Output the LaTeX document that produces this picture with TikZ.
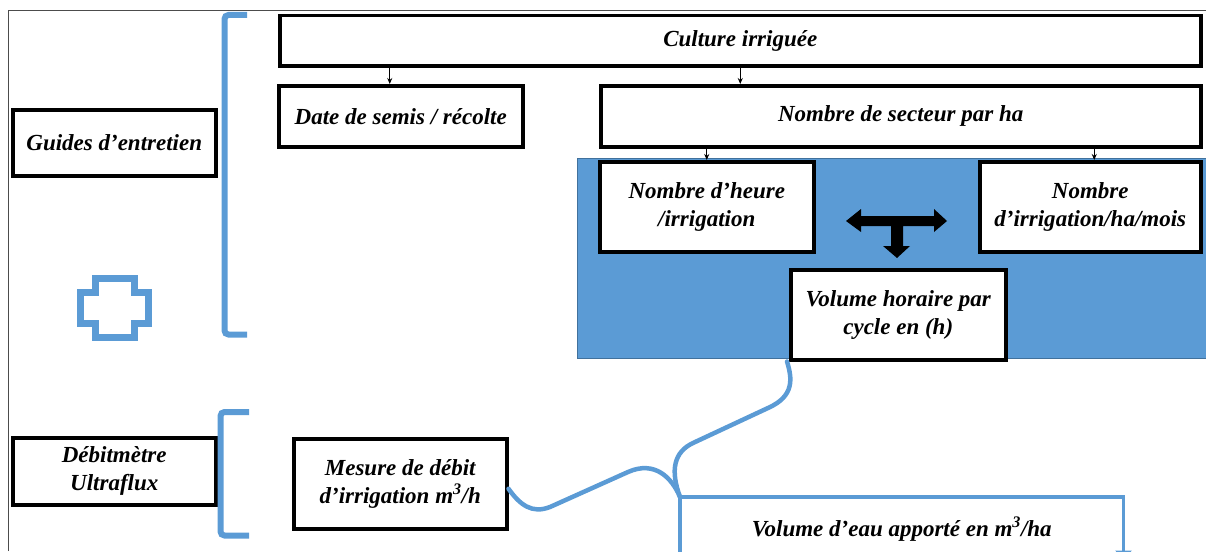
\documentclass[tikz,border=0pt]{standalone}
\usepackage{fontspec}
\setmainfont{Liberation Serif}
\usetikzlibrary{arrows.meta,positioning,calc}
\definecolor{bleu}{HTML}{5B9BD5}
\definecolor{bleufonce}{HTML}{41719C}

\begin{document}
\begin{tikzpicture}[x=1pt, y=-1pt, >=Stealth,
	   font=\fontsize{23}{28}\selectfont\bfseries\itshape,
	   b/.style={draw, line width=3.5pt, fill=white, align=center, inner sep=2pt, anchor=north west},
	   fl/.style={-{Stealth[length=6pt,width=5pt]}, line width=0.9pt},
	   br/.style={draw=bleu, line width=6pt, rounded corners=4pt},
	   bl/.style={draw=bleu, line width=4.5pt}]
	  \useasboundingbox (0,0) rectangle (1206,551);
	  \draw[black!70, line width=1pt] (8,551) -- (8,11) -- (1206,11);
	  % zone bleue
	  \filldraw[fill=bleu, draw=bleufonce, line width=1pt] (577,158) rectangle (1212,358);
	  \node[b, minimum width=203, minimum height=66] (guides) at (11,108) {Guides d’entretien};
	  \node[b, minimum width=203, minimum height=67] (debit) at (11,436) {Débitmètre\\ Ultraflux};
	  \node[b, minimum width=921, minimum height=50] (culture) at (278,14) {Culture irriguée};
	  \node[b, minimum width=244, minimum height=61] (date) at (277,84) {Date de semis / récolte};
	  \node[b, minimum width=600, minimum height=61] (secteur) at (599,84) {Nombre de secteur par ha};
	  \node[b, minimum width=214, minimum height=90] (heure) at (598,160) {Nombre d’heure\\ /irrigation};
	  \node[b, minimum width=221, minimum height=90] (nbirr) at (978,160) {Nombre\\ d’irrigation/ha/mois};
	  \node[b, minimum width=215, minimum height=90] (volh) at (789,268) {Volume horaire par\\ cycle en (h)};
	  \node[b, minimum width=213, minimum height=90] (mesure) at (292,437) {Mesure de débit\\ d’irrigation m\textsuperscript{3}/h};
	  \node[b, draw=none, fill=none, minimum width=440, minimum height=60] (voleau) at (680,497) {Volume d’eau apporté en m\textsuperscript{3}/ha};
	  \draw[fl] ([xshift=-11pt]date.north |- culture.south) -- ([xshift=-11pt]date.north);
	  \draw[fl] (culture.south) -- (culture.south |- secteur.north);
	  \draw[fl] (heure.north |- secteur.south) -- (heure.north);
	  \draw[fl] ([xshift=4pt]nbirr.north |- secteur.south) -- ([xshift=4pt]nbirr.north);
	  % fleche en T
	  \fill (846,221) -- (861,209) -- (861,216) -- (934,216) -- (934,209) -- (947,221) -- (934,232) -- (934,226)
	    -- (903,226) -- (903,246) -- (910,246) -- (897,258) -- (883,246) -- (891,246) -- (891,226)
	    -- (861,226) -- (861,232) -- cycle;
	  % crochets et croix
	  \draw[br] (247,15) -- (224.5,15) -- (224.5,334.5) -- (247,334.5);
	  \draw[br] (249,412) -- (220.5,412) -- (220.5,535.5) -- (249,535.5);
	  \draw[bleu, line width=7pt] (95.5,278.5) -- (134.5,278.5) -- (134.5,292.5) -- (148.5,292.5) -- (148.5,323.5)
	    -- (134.5,323.5) -- (134.5,337.5) -- (95.5,337.5) -- (95.5,323.5) -- (80.5,323.5) -- (80.5,292.5)
	    -- (95.5,292.5) -- cycle;
	  % accolade
	  \draw[bl, line cap=round] ([yshift=-5pt]mesure.east) .. controls (520,505) and (532,514) .. (550,507) -- (628,472)
	    .. controls (655,460) and (672,478) .. (voleau.north west);
	  \draw[bl, line cap=round] (voleau.north west) .. controls (670,470) and (674,452) .. (693,443) -- (768,408)
	    .. controls (795,396) and (792,378) .. ([xshift=-2pt]volh.south west);
	  \draw[bleu, line width=3.5pt, -{Triangle[length=10pt,width=16pt]}] (voleau.south west) -- (voleau.north west)
	    -- (voleau.north east) -- (voleau.south east);
	\end{tikzpicture}
\end{document}
